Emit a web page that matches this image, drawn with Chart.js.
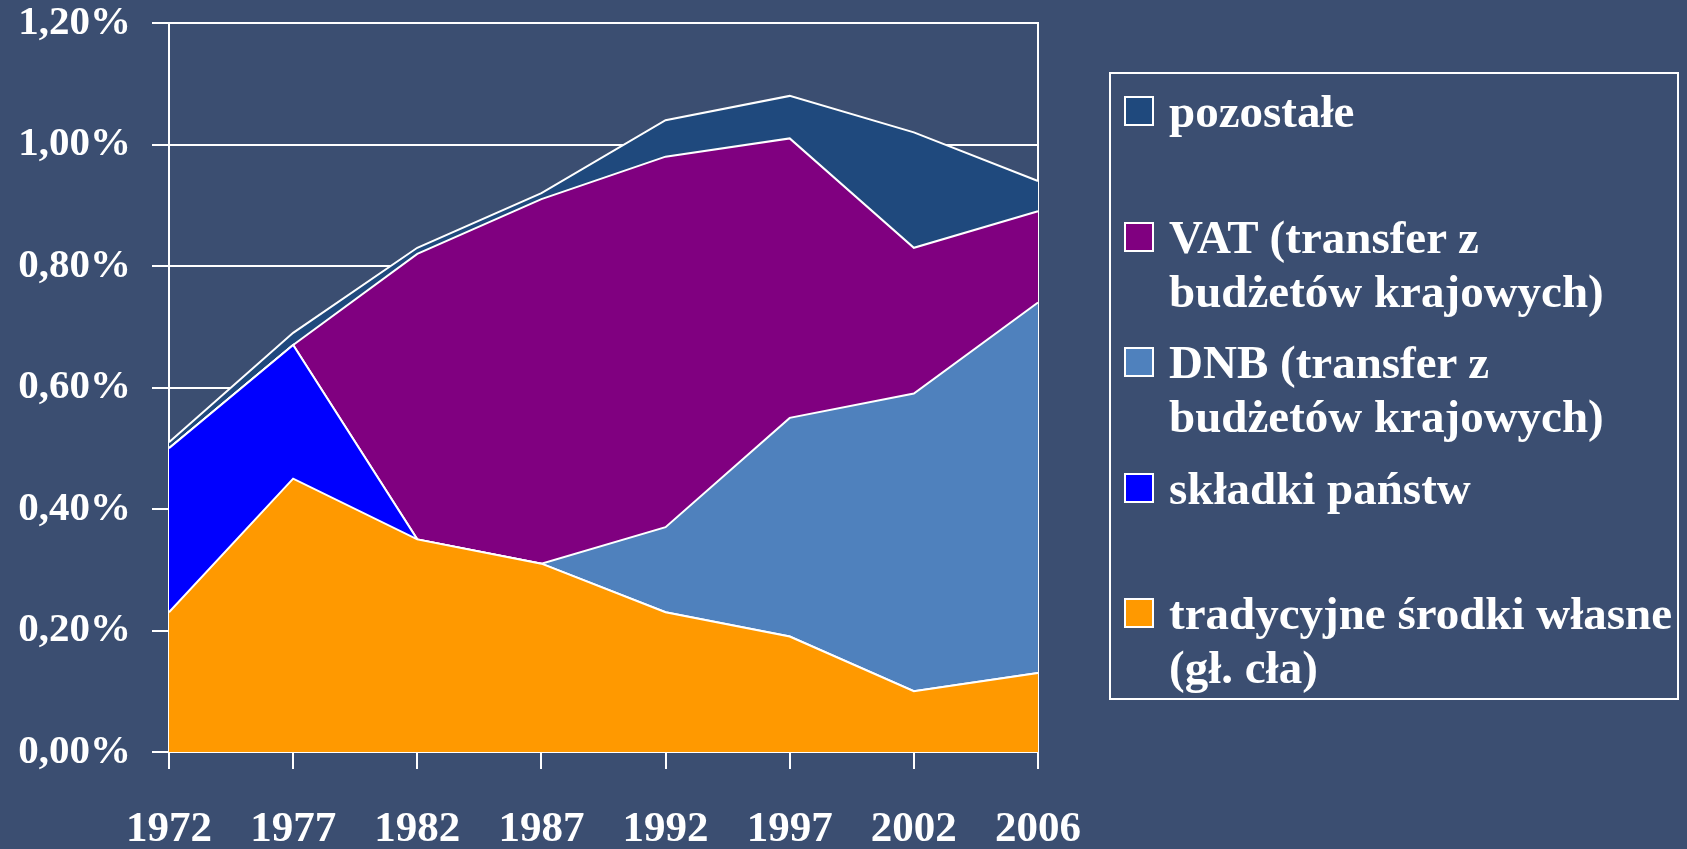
<!DOCTYPE html>
<html><head><meta charset="utf-8">
<script src="https://cdn.jsdelivr.net/npm/chart.js@4.4.0/dist/chart.umd.min.js"></script>
<style>
html,body{margin:0;padding:0;background:#3B4E71;}
#wrap{position:relative;width:1687px;height:849px;overflow:hidden;background:#3B4E71;}
#c{position:absolute;left:0;top:0;}
#legend{position:absolute;left:1109px;top:72px;width:566px;height:624px;border:2px solid #fff;font-family:'Liberation Serif','Times New Roman',serif;font-weight:bold;font-size:47px;color:#fff;}
.item{position:absolute;left:0;width:100%;height:110px;}
.sw{position:absolute;left:13px;top:12px;width:26px;height:26px;border:2px solid #fff;}
.txt{position:absolute;left:58px;top:0;line-height:54px;white-space:pre;}
</style>
</head><body>
<div id="wrap"><canvas id="c" width="1687" height="849"></canvas><div id="legend"></div></div>
<script>
// ---- data ----
const years = ['1972','1977','1982','1987','1992','1997','2002','2006'];
const tradycyjne = [0.23, 0.45, 0.35, 0.31, 0.23, 0.19, 0.10, 0.13];
const skladki    = [0.27, 0.22, 0.00, 0.00, 0.00, 0.00, 0.00, 0.00];
const dnb        = [0.00, 0.00, 0.00, 0.00, 0.14, 0.36, 0.49, 0.61];
const vat        = [0.00, 0.00, 0.47, 0.60, 0.61, 0.46, 0.24, 0.15];
const pozostale  = [0.01, 0.02, 0.01, 0.01, 0.06, 0.07, 0.19, 0.05];
const seriesNames = [
  'tradycyjne środki własne\n(gł. cła)',
  'składki państw',
  'DNB (transfer z\nbudżetów krajowych)',
  'VAT (transfer z\nbudżetów krajowych)',
  'pozostałe'
];
const yMin = 0, yMax = 1.2, yStep = 0.2;

// ---- chart ----
const fontX = {family: "'Liberation Serif','Times New Roman',serif", weight: 'bold', size: 43};
const fontY = {family: "'Liberation Serif','Times New Roman',serif", weight: 'bold', size: 41, lineHeight: 1};
function ds(i, data, color, fill) {
  return {label: seriesNames[i].replace('\n', ' '), data, backgroundColor: color, borderColor: '#FFFFFF',
    borderWidth: 2, fill, pointRadius: 0, tension: 0};
}
const chart = new Chart(document.getElementById('c'), {
  type: 'line',
  data: {
    labels: years,
    datasets: [
      ds(0, tradycyjne, '#FF9900', 'origin'),
      ds(1, skladki, '#0000FF', '-1'),
      ds(2, dnb, '#4F81BD', '-1'),
      ds(3, vat, '#800080', '-1'),
      ds(4, pozostale, '#1F497D', '-1')
    ]
  },
  options: {
    responsive: false,
    animation: false,
    layout: {padding: {left: 0, right: 649, top: 23, bottom: 0}},
    plugins: {legend: {display: false}, tooltip: {enabled: false}},
    scales: {
      x: {
        offset: false,
        grid: {display: true, drawOnChartArea: false, drawTicks: true, tickLength: 17, color: '#FFFFFF', lineWidth: 2},
        border: {display: true, color: '#FFFFFF', width: 2},
        ticks: {color: '#FFFFFF', font: fontX, padding: 35, maxRotation: 0, autoSkip: false},
        afterFit: s => { s.height = 97; s.paddingLeft = 0; s.paddingRight = 0; }
      },
      y: {
        stacked: true, min: yMin, max: yMax,
        grid: {color: '#FFFFFF', lineWidth: 2, tickLength: 17},
        border: {display: true, color: '#FFFFFF', width: 2},
        ticks: {stepSize: yStep, color: '#FFFFFF', font: fontY, padding: 21,
          callback: v => v.toFixed(2).replace('.', ',') + '%'},
        afterFit: s => { s.width = 169; s.paddingTop = 0; s.paddingBottom = 0; }
      },
      y2: {
        position: 'right', display: true,
        grid: {display: false, drawOnChartArea: false, drawTicks: false},
        border: {display: true, color: '#FFFFFF', width: 2},
        ticks: {display: false},
        afterFit: s => { s.width = 0; s.paddingTop = 0; s.paddingBottom = 0; }
      }
    }
  }
});

// ---- HTML legend (reverse order, top series first) ----
const legend = document.getElementById('legend');
chart.data.datasets.slice().reverse().forEach((d, k) => {
  const idx = chart.data.datasets.length - 1 - k;
  const it = document.createElement('div');
  it.className = 'item';
  it.style.top = (10.3 + 125.5 * k) + 'px';
  const sw = document.createElement('div');
  sw.className = 'sw';
  sw.style.background = d.backgroundColor;
  const tx = document.createElement('div');
  tx.className = 'txt';
  tx.textContent = seriesNames[idx];
  it.appendChild(sw); it.appendChild(tx);
  legend.appendChild(it);
});
</script>
</body></html>
